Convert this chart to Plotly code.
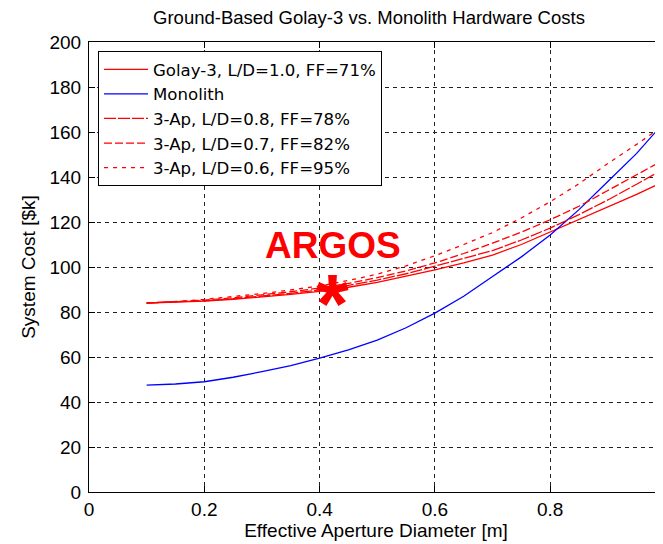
import plotly.graph_objects as go

diam = [0.1, 0.15, 0.2, 0.25, 0.3, 0.35, 0.4, 0.45, 0.5, 0.55, 0.6, 0.65, 0.7, 0.75, 0.8, 0.85, 0.9, 0.95, 1.0]
golay3_ld10 = [84, 84.3, 84.8, 85.6, 86.6, 87.8, 89.2, 91.0, 93.2, 95.8, 98.7, 101.8, 105.3, 110.0, 115.6, 121.0, 126.5, 132.3, 138.3]
monolith = [47.5, 48.0, 49.0, 51.0, 53.5, 56.2, 59.5, 63.2, 67.5, 73.0, 79.5, 87.0, 95.8, 104.5, 114.2, 125.5, 138.0, 150.5, 165.0]
ap3_ld08 = [84, 84.4, 85.0, 85.9, 87.0, 88.3, 89.8, 91.8, 94.2, 97.0, 100.4, 103.7, 107.3, 112.0, 117.3, 123.3, 129.8, 136.8, 144.0]
ap3_ld07 = [84, 84.5, 85.3, 86.3, 87.5, 89.0, 90.6, 92.7, 95.3, 98.3, 101.8, 106.0, 110.6, 115.5, 121.0, 127.0, 134.0, 141.0, 148.0]
ap3_ld06 = [84, 84.6, 85.6, 86.8, 88.2, 89.8, 91.6, 94.0, 96.8, 100.5, 105.0, 110.0, 115.3, 121.8, 129.0, 137.0, 146.0, 154.5, 163.5]

series_names = ["Golay-3, L/D=1.0, FF=71%", "Monolith", "3-Ap, L/D=0.8, FF=78%",
                "3-Ap, L/D=0.7, FF=82%", "3-Ap, L/D=0.6, FF=95%"]
x_ticks = [0, 0.2, 0.4, 0.6, 0.8, 1.0]
x_tick_labels = ["0", "0.2", "0.4", "0.6", "0.8", "1"]
y_ticks = [0, 20, 40, 60, 80, 100, 120, 140, 160, 180, 200]

argos_x = [0.423]
argos_y = [89.8]

FONT = "Liberation Sans, Arial, sans-serif"
LEG_FONT = "DejaVu Sans, Liberation Sans, sans-serif"
RED = "#ff0000"
BLUE = "#0000ff"

# page body has an 8px margin, so the figure is laid out 8px up/left of the reference
W, H = 655, 536

fig = go.Figure()
styles = [
    (golay3_ld10, RED, "solid"),
    (monolith, BLUE, "solid"),
    (ap3_ld08, RED, "12px,2px"),
    (ap3_ld07, RED, "8px,3px"),
    (ap3_ld06, RED, "4px,5px"),
]
for (vals, col, dash), name in zip(styles, series_names):
    fig.add_trace(go.Scatter(x=diam, y=vals, mode="lines", name=name,
                             line=dict(color=col, width=1.3, dash=dash)))

fig.add_annotation(x=argos_x[0], y=argos_y[0], text="*", showarrow=False,
                   font=dict(family=FONT, size=84, color=RED, weight="bold"),
                   xanchor="center", yanchor="middle", yshift=-14)
fig.add_annotation(x=argos_x[0], y=argos_y[0], text="ARGOS", showarrow=False,
                   font=dict(family=FONT, size=37, color=RED, weight="bold"),
                   xanchor="center", yanchor="middle", yshift=44)

axis_common = dict(showline=True, linecolor="black", linewidth=1, mirror="ticks",
                   ticks="inside", ticklen=6, tickcolor="black", automargin=False,
                   showgrid=True, gridcolor="#222222", gridwidth=1, griddash="4px,4px",
                   zeroline=False, tickfont=dict(family=FONT, size=19, color="black"))

fig.update_xaxes(range=[0, 0.9957], tickvals=x_ticks, ticktext=x_tick_labels,
                 title=dict(text="Effective Aperture Diameter [m]",
                            font=dict(family=FONT, size=19, color="black"), standoff=0),
                 **axis_common)
fig.update_yaxes(range=[0, 200], tickvals=y_ticks, ticklabelstandoff=3,
                 title=dict(text="System Cost [$k]",
                            font=dict(family=FONT, size=19, color="black"), standoff=8),
                 **axis_common)

fig.update_layout(
    width=W, height=H,
    margin=dict(l=81, r=0, t=34, b=H - 484, autoexpand=False),
    paper_bgcolor="white", plot_bgcolor="white",
    title=dict(text="Ground-Based Golay-3 vs. Monolith Hardware Costs",
               font=dict(family=FONT, size=18.5, color="black"),
               x=361 / W, xref="container", xanchor="center",
               y=1 - 10 / H, yref="container", yanchor="middle", automargin=False),
    legend=dict(x=9 / 574, y=1 - 9 / 450, xanchor="left", yanchor="top",
                bgcolor="white", bordercolor="black", borderwidth=1,
                font=dict(family=LEG_FONT, size=16.6, color="black"),
                tracegroupgap=0, itemwidth=44),
    showlegend=True,
)

fig.write_html("out.html")
